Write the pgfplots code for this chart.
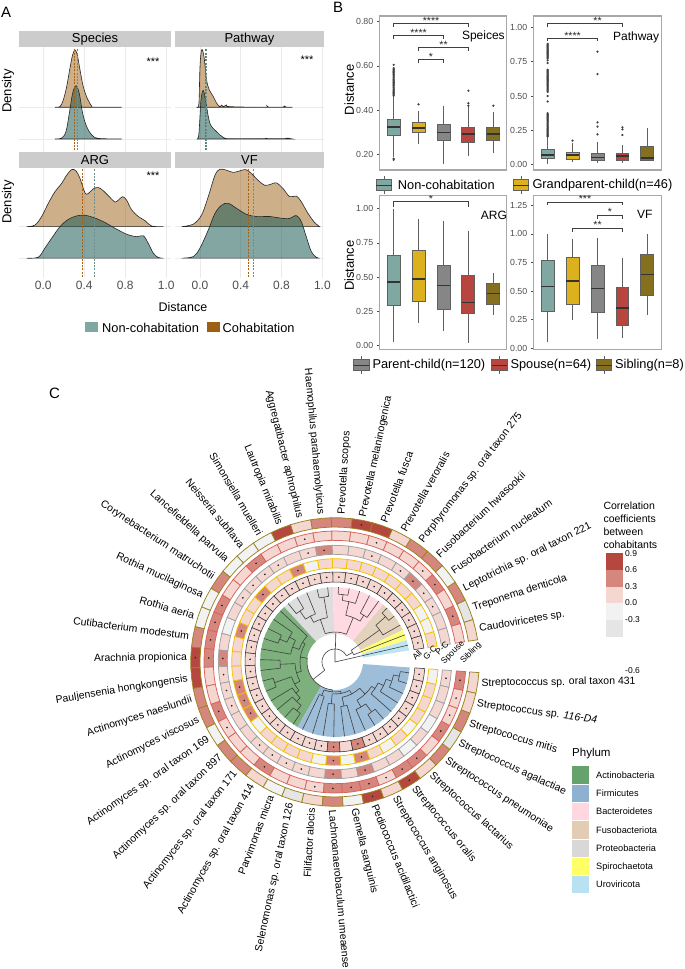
\documentclass[border=0pt]{standalone}
\usepackage{fontspec}
\setmainfont{Liberation Sans}
\usepackage{pgfplots}
\usepackage{pgfplotstable}
\pgfplotsset{compat=1.18}
\usepgfplotslibrary{statistics}

\definecolor{coh}{HTML}{9C5F14}
\definecolor{noncoh}{HTML}{1A5A55}
\definecolor{tealkey}{HTML}{7FA8A3}
\definecolor{yel}{HTML}{DDB11D}
\definecolor{gry}{HTML}{868686}
\definecolor{red1}{HTML}{B9453F}
\definecolor{oli}{HTML}{84701E}
\definecolor{strip}{HTML}{CCCCCC}
\definecolor{gridc}{HTML}{EBEBEB}
\definecolor{frame}{HTML}{A8A8A8}
\definecolor{tickc}{HTML}{4D4D4D}
\definecolor{edgec}{HTML}{606060}
\definecolor{cnine}{HTML}{B5473F}
\definecolor{csix}{HTML}{D5877E}
\definecolor{cthree}{HTML}{F5D7D2}
\definecolor{czero}{HTML}{F2F2F2}
\definecolor{cneg}{HTML}{E5E5E5}
\definecolor{rAll}{HTML}{333333}
\definecolor{rGC}{HTML}{F2C200}
\definecolor{rPC}{HTML}{A0A0A0}
\definecolor{rSp}{HTML}{D9625B}
\definecolor{rSi}{HTML}{9A8420}
\definecolor{pAct}{HTML}{7DB07D}
\definecolor{pFir}{HTML}{9DBDD8}
\definecolor{pBac}{HTML}{FFDAE2}
\definecolor{pFus}{HTML}{E3D3BD}
\definecolor{pPro}{HTML}{DDDDDD}
\definecolor{pSpi}{HTML}{FFFF7A}
\definecolor{pUro}{HTML}{BFE5F5}
\definecolor{kAct}{HTML}{66A26B}
\definecolor{kFir}{HTML}{8DB1D0}
\definecolor{kBac}{HTML}{FFD7E1}
\definecolor{kFus}{HTML}{E2CDB4}
\definecolor{kPro}{HTML}{D8D8D8}
\definecolor{kSpi}{HTML}{FFFF66}
\definecolor{kUro}{HTML}{B8E2F2}

\newcommand\fs[1]{\fontsize{#1}{#1}\selectfont}

% ---- panel A densities, h is height above the ridge baseline
\pgfplotstableread[row sep=\\]{x h\\.114 0\\.163 .02\\.195 .23\\.228 .65\\.26 1.23\\.286 1.65\\.309 1.81\\.332 1.65\\.358 1.18\\.39 .65\\.429 .28\\.472 .04\\.504 0\\.764 0\\}\spCo
\pgfplotstableread[row sep=\\]{x h\\.114 0\\.179 .03\\.221 .23\\.254 .81\\.286 1.44\\.319 1.68\\.351 1.44\\.384 .81\\.423 .39\\.472 .13\\.537 .02\\.764 0\\}\spNo
\pgfplotstableread[row sep=\\]{x h\\-.026 0\\-.01 .13\\0 1.28\\.016 1.81\\.039 1.6\\.065 .86\\.091 .55\\.13 .34\\.163 .13\\.195 .02\\.212 .07\\.228 .02\\.26 .07\\.293 .02\\.635 0\\.658 .04\\.677 0\\.808 0\\.827 .04\\.847 0\\.906 0\\}\paCo
\pgfplotstableread[row sep=\\]{x h\\-.026 0\\-.01 .18\\.01 1.23\\.033 1.53\\.059 1.13\\.098 .49\\.163 .23\\.228 .05\\.293 .01\\.619 .01\\.642 .03\\.668 .01\\.831 .01\\.853 .03\\.906 0\\}\paNo
\pgfplotstableread[row sep=\\]{x h\\-.163 0\\-.081 .05\\-.016 .32\\.049 .74\\.114 1.11\\.179 1.37\\.228 1.63\\.276 1.81\\.319 1.77\\.358 1.53\\.407 1.07\\.439 1.05\\.488 1.2\\.537 1.24\\.585 1.14\\.65 .93\\.699 .78\\.732 .84\\.774 .95\\.813 .84\\.862 .53\\.927 .32\\.992 .19\\1.057 .02\\1.171 0\\}\arCo
\pgfplotstableread[row sep=\\]{x h\\-.163 0\\-.049 .03\\.016 .32\\.081 .63\\.163 1\\.244 1.23\\.325 1.34\\.407 1.36\\.488 1.29\\.585 1.16\\.699 .95\\.813 .76\\.911 .68\\.976 .71\\1.024 .47\\1.073 .16\\1.122 .02\\1.171 0\\}\arNo
\pgfplotstableread[row sep=\\]{x h\\-.179 0\\-.065 .08\\.016 .37\\.081 .95\\.147 1.63\\.195 1.82\\.26 1.79\\.326 1.72\\.391 1.77\\.45 1.81\\.505 1.68\\.57 1.47\\.635 1.31\\.7 1.35\\.749 1.39\\.814 1.21\\.879 .95\\.945 .97\\.993 .79\\1.059 .42\\1.124 .13\\1.173 0\\}\vfCo
\pgfplotstableread[row sep=\\]{x h\\-.179 0\\-.065 .05\\0 .32\\.081 .89\\.147 1.42\\.212 1.68\\.277 1.74\\.358 1.58\\.456 1.39\\.554 1.32\\.684 1.32\\.814 1.26\\.879 1.26\\.945 1.35\\.993 1.16\\1.042 .68\\1.091 .21\\1.14 .03\\1.173 0\\}\vfNo

% ---- panel C correlations by ring (all, g-c, p-c, spouse, sibling) and significance dots
\pgfplotstableread{
k  all gc pc sp si da dg dp ds db
1  .15 .15 .15 .15 .15 1 0 0 0 0
2  .15 -.15 .15 .45 -.45 1 0 0 1 0
3  .15 -.15 .15 .15 .45 1 0 1 0 0
4  .15 .15 .15 .45 -.15 1 0 1 1 0
5  .15 .15 .45 .15 .45 1 0 1 1 0
6  .15 .15 .15 .15 .45 1 0 1 0 0
7  .15 .15 .15 .15 .15 1 0 0 0 0
8  .15 .15 .15 .15 .75 1 0 1 1 0
9  .15 .15 .15 .15 .75 1 0 0 0 1
10 .15 .15 .15 .15 .45 1 0 0 0 0
11 .15 .15 .45 .15 .45 1 0 1 0 0
12 .15 -.15 .15 .15 .15 1 0 1 1 0
13 .15 .45 .15 .15 .75 1 1 0 0 0
14 .15 .15 .15 .15 -.15 1 0 1 0 0
15 .15 .15 .15 .45 -.15 1 0 1 1 0
16 .15 .45 .15 .15 -.15 1 1 1 0 0
17 .15 .15 .15 .15 .45 1 0 1 0 0
18 .15 .15 .15 .45 -.15 1 0 0 1 0
19 .15 .45 -.15 .45 -.15 1 1 0 1 0
20 .15 .15 .15 .45 .45 1 0 0 1 0
21 .15 .15 .45 .45 .75 1 0 1 1 1
22 .15 .15 .15 .15 .75 1 0 1 0 0
23 .15 .45 .15 .15 .45 1 1 1 0 0
24 .15 .45 .15 .45 .45 1 1 1 1 0
25 .15 .45 .15 .15 -.15 1 1 0 1 0
26 .15 -.15 .15 .15 .45 1 0 0 0 0
27 .15 .15 .15 .15 .45 1 0 1 0 0
28 .15 .15 .15 .45 .15 1 0 1 1 0
29 .15 .15 .15 .15 -.15 1 0 1 0 0
30 .15 .15 .15 .15 -.45 1 0 1 0 0
31 .15 -.15 .15 .15 .15 1 0 0 1 0
32 .45 .45 .45 .45 .45 1 1 1 1 0
33 .15 -.15 .15 .45 -.15 0 0 0 1 0
34 .45 .45 .45 .45 .75 1 1 1 1 1
35 .15 .15 .15 .15 .15 1 0 0 1 0
36 .15 -.15 .15 .45 .75 1 0 0 1 1
37 .15 .15 -.15 .45 .15 1 0 0 1 0
38 .15 -.15 .15 .15 .45 1 0 0 0 0
39 .15 .15 -.15 .45 -.45 1 0 0 1 0
40 .15 .15 .15 .15 .45 1 0 0 1 0
41 .15 .15 .15 .15 .15 1 0 0 1 0
42 .15 -.15 .15 .45 .15 1 0 1 1 0
}\corr

% tree: children span k1..k2 at radius r, stem down to radius rp
\pgfplotstableread{
k1 k2 r rp
1 1 75 0
2 2 75 20
3 3 75 55
4 4 75 68
5 5 75 68
6 6 75 55
7 7 75 55
8 8 75 62
9 9 75 68
10 10 75 68
11 11 75 66
12 12 75 66
13 13 75 52
14 14 75 62
15 15 75 62
16 16 75 38
17 17 75 52
18 18 75 60
19 19 75 60
20 20 75 45
21 21 75 55
22 22 75 55
23 23 75 64
24 24 75 64
25 25 75 50
26 26 75 55
27 27 75 62
28 28 75 62
29 29 75 36
30 30 75 36
31 31 75 42
32 32 75 42
33 33 75 45
34 34 75 45
35 35 75 52
36 36 75 62
37 37 75 62
38 38 75 48
39 39 75 54
40 40 75 60
41 41 75 66
42 42 75 66
41 42 66 60
40 41.5 60 54
39 40.75 54 48
38 39.875 48 44
36 37 62 52
35 36.5 52 44
35.75 38.94 44 36
33 34 45 36
33.5 37.345 36 32
31 32 42 32
31.5 35.42 32 30
29 30 36 30
29.5 33.46 30 28
27 28 62 55
26 27.5 55 50
25 26.75 50 46
23 24 64 46
23.5 25.875 46 40
21 22 55 40
21.5 24.69 40 35
18 19 60 52
17 18.5 52 45
17.75 20 45 38
16 18.875 38 35
17.44 23.09 35 28
20.27 31.48 28 13
11 12 66 45
14 15 62 52
13 14.5 52 45
11.5 13.75 45 30
9 10 68 62
8 9.5 62 48
6 7 55 48
6.5 8.75 48 30
7.625 12.625 30 13
4 5 68 55
3 4.5 55 20
2 3.75 20 13
2.875 25.875 13 13
10.3 10.3 13 0
}\treedata

\pgfplotsset{
  ridge/.style={scale only axis,anchor=north west,axis line style={draw=none},tick style={draw=none},
    xmajorgrids,ymajorgrids,grid style={gridc,line width=.7pt},ytick={0,1},yticklabels={},
    xtick={0,.4,.8,1.2},ticklabel style={font=\fs{12},text=tickc},
    ylabel style={font=\fs{13},anchor=center}},
  upper/.style={smooth,tension=.55,draw=black!85,line width=.6pt,fill=coh,fill opacity=.5},
  lower/.style={smooth,tension=.55,draw=black!85,line width=.6pt,fill=noncoh,fill opacity=.54},
  dashCo/.style={draw=coh!90!orange,dash pattern=on 2pt off 1.3pt,line width=.8pt},
  dashNo/.style={draw=tealkey!85!black,dash pattern=on 2pt off 1.3pt,line width=.8pt},
  boxpanel/.style={scale only axis,anchor=north west,width=127.5pt,height=154pt,
    axis line style={frame,line width=1.1pt},xtick=\empty,ytick pos=left,tick align=outside,
    major tick length=2.5pt,tick style={tickc,line width=.6pt},
    yticklabel style={font=\fs{8.8},text=tickc},
    ylabel style={font=\fs{13},anchor=center}},
  bxs/.style={solid,draw=edgec,line width=.9pt,mark=*,mark size=.6pt,mark options={draw=black!75,fill=black!75},
    boxplot/draw direction=y,boxplot/whisker extend=0,
    boxplot/every median/.style={draw=black!80,line width=1.5pt}},
}

% position lw q1 med q3 uw colour outliers
\newcommand\bx[8]{\addplot[bxs,fill=#7,boxplot prepared={draw position=#1,box extend=.52,lower whisker=#2,lower quartile=#3,median=#4,upper quartile=#5,upper whisker=#6}] coordinates {#8};}
% x1 x2 level tip, stars at xs,ys
\newcommand\brk[7]{\addplot[black!75,line width=.6pt] coordinates {(#1,#4)(#1,#3)(#2,#3)(#2,#4)};
  \node[font=\fs{10.5},inner sep=0pt,text=black!85] at (axis cs:#5,#6) {#7};}
\newcommand\bkey[3]{\draw[edgec,line width=.9pt] (#1pt,-#2pt+9pt) -- (#1pt,-#2pt-9pt);
  \draw[edgec,line width=.9pt,fill=#3] (#1pt-7.7pt,-#2pt+5.2pt) rectangle (#1pt+7.7pt,-#2pt-5.2pt);
  \draw[black!80,line width=1pt] (#1pt-7.7pt,-#2pt) -- (#1pt+7.7pt,-#2pt);}

% panel C helpers
\newcommand\ring[6]{%
  \pgfplotsforeachungrouped \k in {0,...,41}{%
    \pgfplotstablegetelem{\k}{#1}\of\corr \let\cv\pgfplotsretval
    \pgfplotstablegetelem{\k}{#2}\of\corr \let\dv\pgfplotsretval
    \ifdim\cv pt>0.6pt \def\cc{cnine}\else\ifdim\cv pt>0.3pt \def\cc{csix}\else\ifdim\cv pt>0pt \def\cc{cthree}\else
      \ifdim\cv pt>-0.3pt \def\cc{czero}\else \def\cc{cneg}\fi\fi\fi\fi
    \pgfmathsetmacro\aA{13+(\k-.5)*8.26}\pgfmathsetmacro\aM{13+\k*8.26}\pgfmathsetmacro\aB{13+(\k+.5)*8.26}
    \edef\tmp{\noexpand\addplot[fill=\cc,draw=#5,line width=#6] coordinates {(\aA,#3)(\aM,#3)(\aB,#3)(\aB,#4)(\aM,#4)(\aA,#4)} -- cycle;}\tmp
    \ifnum\dv=1 \pgfmathsetmacro\rM{(#3+#4)/2}\xdef\dotlist{\dotlist(\aM,\rM)}\fi
  }}
\newcommand\sector[3]{%
  \gdef\seclist{}%
  \pgfplotsforeachungrouped \j in {#1,...,#2}{%
    \pgfmathsetmacro\aA{13+(\j-1.5)*8.26}\xdef\seclist{\seclist(\aA,75)}}%
  \pgfmathsetmacro\aA{13+(#2-.5)*8.26}\xdef\seclist{\seclist(\aA,75)(\aA,28)}%
  \pgfplotsforeachungrouped \j in {#2,...,#1}{%
    \pgfmathsetmacro\aA{13+(\j-1.5)*8.26}\xdef\seclist{\seclist(\aA,28)}}%
  \edef\tmp{\noexpand\addplot[fill=#3,draw=none] coordinates {\seclist} -- cycle;}\tmp}
\pgfplotstablegetrowsof{\treedata}
\pgfmathtruncatemacro\treelast{\pgfplotsretval-1}

\begin{document}
\begin{tikzpicture}
\path[use as bounding box] (0,0) rectangle (685pt,-969pt);

% ============ A ============
\node[font=\fs{15},anchor=west,inner sep=0pt] at (1pt,-12pt) {A};
\foreach \xa/\xb/\ya/\yb/\t in {19/171/31/47/Species,175/324/31/47/Pathway,19/171/152/168/ARG,175/324/152/168/VF}{
  \fill[strip] (\xa pt,-\ya pt) rectangle (\xb pt,-\yb pt);
  \node[font=\fs{13},inner sep=0pt] at ({(\xa+\xb)/2*1pt},{-(\ya+\yb)/2*1pt}) {\t};}

\begin{axis}[ridge,at={(19pt,-47pt)},width=152pt,height=105pt,xmin=-.237,xmax=1.246,ymin=-.41,ymax=2.9,xticklabels={},
  ylabel={Density},ylabel style={at={(axis description cs:-.072,.58)}}]
\addplot[upper] table[x=x,y expr=\thisrow{h}+1] {\spCo} -- cycle;
\addplot[lower] table[x=x,y=h] {\spNo} -- cycle;
\addplot[dashCo] coordinates {(.302,-.36)(.302,2.85)};
\addplot[dashNo] coordinates {(.332,-.36)(.332,2.85)};
\node[font=\fs{11}] at (axis cs:1.07,2.45) {***};
\end{axis}
\begin{axis}[ridge,at={(175pt,-47pt)},width=149pt,height=105pt,xmin=-.245,xmax=1.216,ymin=-.41,ymax=2.9,xticklabels={}]
\addplot[upper] table[x=x,y expr=\thisrow{h}+1] {\paCo} -- cycle;
\addplot[lower] table[x=x,y=h] {\paNo} -- cycle;
\addplot[dashCo] coordinates {(.049,-.36)(.049,2.85)};
\addplot[dashNo] coordinates {(.062,-.36)(.062,2.85)};
\node[font=\fs{11}] at (axis cs:1.05,2.49) {***};
\end{axis}
\begin{axis}[ridge,at={(19pt,-168pt)},width=152pt,height=110pt,xmin=-.237,xmax=1.246,ymin=-.63,ymax=2.86,xticklabels={0.0,0.4,0.8,1.0},
  ylabel={Density},ylabel style={at={(axis description cs:-.072,.69)}}]
\addplot[upper] table[x=x,y expr=\thisrow{h}+1] {\arCo} -- cycle;
\addplot[lower] table[x=x,y=h] {\arNo} -- cycle;
\addplot[dashCo] coordinates {(.38,-.6)(.38,2.85)};
\addplot[dashNo] coordinates {(.5,-.6)(.5,2.85)};
\node[font=\fs{11}] at (axis cs:1.07,2.62) {***};
\end{axis}
\begin{axis}[ridge,at={(175pt,-168pt)},width=149pt,height=110pt,xmin=-.245,xmax=1.216,ymin=-.63,ymax=2.86,xticklabels={0.0,0.4,0.8,1.0}]
\addplot[upper] table[x=x,y expr=\thisrow{h}+1] {\vfCo} -- cycle;
\addplot[lower] table[x=x,y=h] {\vfNo} -- cycle;
\addplot[dashCo] coordinates {(.472,-.6)(.472,2.85)};
\addplot[dashNo] coordinates {(.528,-.6)(.528,2.85)};
\end{axis}
\node[font=\fs{12.5},inner sep=0pt] at (183pt,-307pt) {Distance};
\fill[tealkey] (85pt,-322pt) rectangle (98pt,-332pt);
\node[font=\fs{12.8},anchor=west,inner sep=0pt] at (102pt,-327.5pt) {Non-cohabitation};
\fill[coh] (207pt,-322pt) rectangle (219.5pt,-332pt);
\node[font=\fs{12.8},anchor=west,inner sep=0pt] at (222.5pt,-327.5pt) {Cohabitation};

% ============ B ============
\node[font=\fs{15},anchor=west,inner sep=0pt] at (333pt,-7pt) {B};
\begin{axis}[boxpanel,at={(379.3pt,-16pt)},xmin=.424,xmax=5.54,ymin=.129,ymax=.826,
  ytick={.2,.4,.6,.8},yticklabels={0.20,0.40,0.60,0.80},
  ylabel={Distance},ylabel style={at={(axis description cs:-.235,.52)}}]
\bx{1}{.19}{.287}{.324}{.36}{.46}{tealkey}{(0,.175)(0,.18)(0,.465)(0,.47)(0,.475)(0,.48)(0,.485)(0,.49)(0,.495)(0,.50)(0,.505)(0,.51)(0,.515)(0,.52)(0,.525)(0,.53)(0,.535)(0,.54)(0,.545)(0,.55)(0,.555)(0,.56)(0,.565)(0,.57)(0,.575)(0,.58)(0,.585)(0,.59)(0,.605)}
\bx{2}{.247}{.30}{.319}{.346}{.398}{yel}{(0,.426)}
\bx{3}{.156}{.263}{.298}{.337}{.419}{gry}{}
\bx{4}{.192}{.254}{.293}{.322}{.413}{red1}{(0,.42)(0,.431)(0,.488)}
\bx{5}{.205}{.263}{.293}{.322}{.39}{oli}{(0,.42)}
\brk{1}{4}{.791}{.777}{2.5}{.805}{****}
\brk{1}{3}{.738}{.723}{2}{.75}{****}
\brk{2}{4}{.684}{.669}{3}{.697}{**}
\brk{2}{3}{.63}{.615}{2.5}{.643}{*}
\node[font=\fs{12},inner sep=0pt] at (axis cs:4.6,.732) {Speices};
\end{axis}
\begin{axis}[boxpanel,at={(533.3pt,-16pt)},width=128.4pt,xmin=.425,xmax=5.575,ymin=-.039,ymax=1.083,
  ytick={0,.25,.5,.75,1},yticklabels={0.00,0.25,0.50,0.75,1.00}]
\bx{1}{.005}{.044}{.07}{.109}{.2}{tealkey}{(0,.205)(0,.212)(0,.219)(0,.226)(0,.233)(0,.24)(0,.247)(0,.254)(0,.261)(0,.268)(0,.275)(0,.282)(0,.289)(0,.296)(0,.303)(0,.31)(0,.317)(0,.324)(0,.331)(0,.338)(0,.345)(0,.352)(0,.359)(0,.366)(0,.375)(0,.46)(0,.5)(0,.53)(0,.537)(0,.544)(0,.551)(0,.558)(0,.565)(0,.572)(0,.579)(0,.586)(0,.593)(0,.6)(0,.607)(0,.614)(0,.621)(0,.628)(0,.635)(0,.642)(0,.649)(0,.656)(0,.663)(0,.67)(0,.677)(0,.684)(0,.691)(0,.74)(0,.76)(0,.775)(0,.782)(0,.789)(0,.796)(0,.803)(0,.81)(0,.817)(0,.824)(0,.831)(0,.838)(0,.845)(0,.852)(0,.859)(0,.866)(0,.873)(0,.88)}
\bx{2}{.017}{.039}{.07}{.09}{.155}{yel}{(0,.175)}
\bx{3}{.012}{.029}{.053}{.085}{.165}{gry}{(0,.22)(0,.277)(0,.308)(0,.66)(0,.823)}
\bx{4}{.015}{.029}{.063}{.08}{.143}{red1}{(0,.216)(0,.257)(0,.272)}
\bx{5}{.032}{.034}{.05}{.133}{.267}{oli}{}
\brk{1}{4}{1.027}{1.0}{3}{1.045}{**}
\brk{1}{3}{.922}{.898}{2}{.94}{****}
\node[font=\fs{12},inner sep=0pt] at (axis cs:4.55,.928) {Pathway};
\end{axis}
\begin{axis}[boxpanel,at={(379.3pt,-195.3pt)},xmin=.424,xmax=5.54,ymin=-.029,ymax=1.098,
  ytick={0,.25,.5,.75,1},yticklabels={0.00,0.25,0.50,0.75,1.00},
  ylabel={Distance},ylabel style={at={(axis description cs:-.235,.543)}}]
\bx{1}{.024}{.295}{.463}{.661}{1}{tealkey}{}
\bx{2}{.166}{.32}{.485}{.693}{.924}{yel}{}
\bx{3}{.105}{.261}{.439}{.583}{.91}{gry}{}
\bx{4}{.02}{.232}{.312}{.51}{.837}{red1}{}
\bx{5}{.222}{.30}{.378}{.454}{.527}{oli}{}
\brk{1}{4}{1.051}{1.015}{2.5}{1.072}{*}
\node[font=\fs{12},inner sep=0pt] at (axis cs:5.02,.95) {ARG};
\end{axis}
\begin{axis}[boxpanel,at={(533.3pt,-195.3pt)},width=128.4pt,xmin=.425,xmax=5.575,ymin=-.009,ymax=1.337,
  ytick={0,.25,.5,.75,1,1.25},yticklabels={0.00,0.25,0.50,0.75,1.00,1.25}]
\bx{1}{.052}{.32}{.539}{.766}{1}{tealkey}{}
\bx{2}{.25}{.385}{.589}{.793}{.959}{yel}{}
\bx{3}{.082}{.315}{.522}{.72}{.964}{gry}{}
\bx{4}{.093}{.20}{.353}{.533}{.79}{red1}{}
\bx{5}{.294}{.466}{.644}{.822}{.997}{oli}{}
\brk{1}{4}{1.279}{1.253}{2.5}{1.305}{***}
\brk{3}{4}{1.163}{1.133}{3.5}{1.19}{*}
\brk{2}{4}{1.046}{1.017}{3}{1.075}{**}
\node[font=\fs{12},inner sep=0pt] at (axis cs:4.9,1.17) {VF};
\end{axis}

\bkey{384}{185}{tealkey}
\node[font=\fs{12.8},anchor=west,inner sep=0pt] at (397.7pt,-185pt) {Non-cohabitation};
\bkey{521}{185}{yel}
\node[font=\fs{12.8},anchor=west,inner sep=0pt] at (532.3pt,-185pt) {Grandparent-child(n=46)};
\bkey{361.3}{365}{gry}
\node[font=\fs{12.8},anchor=west,inner sep=0pt] at (372.3pt,-365pt) {Parent-child(n=120)};
\bkey{499.3}{365}{red1}
\node[font=\fs{12.8},anchor=west,inner sep=0pt] at (510.3pt,-365pt) {Spouse(n=64)};
\bkey{604}{365}{oli}
\node[font=\fs{12.8},anchor=west,inner sep=0pt] at (615pt,-365pt) {Sibling(n=8)};

% ============ C ============
\node[font=\fs{15},anchor=west,inner sep=0pt] at (49pt,-393pt) {C};
\begin{axis}[at={(335pt,-662pt)},anchor=center,scale only axis,width=300pt,height=300pt,
  xmin=-150,xmax=150,ymin=-150,ymax=150,hide axis,data cs=polar]
\sector{1}{1}{pUro}
\sector{2}{2}{pSpi}
\sector{3}{5}{pFus}
\sector{6}{10}{pBac}
\sector{11}{15}{pPro}
\sector{16}{28}{pAct}
\sector{29}{42}{pFir}
% tree
\pgfplotsforeachungrouped \n in {0,...,\treelast}{%
  \pgfplotstablegetelem{\n}{k1}\of\treedata \let\kA\pgfplotsretval
  \pgfplotstablegetelem{\n}{k2}\of\treedata \let\kB\pgfplotsretval
  \pgfplotstablegetelem{\n}{r}\of\treedata \let\rr\pgfplotsretval
  \pgfplotstablegetelem{\n}{rp}\of\treedata \let\rp\pgfplotsretval
  \pgfmathsetmacro\aM{13+((\kA+\kB)/2-1)*8.26}
  \edef\tmp{\noexpand\addplot[black!75,line width=.6pt] coordinates {(\aM,\rr)(\aM,\rp)};}\tmp
  \pgfmathtruncatemacro\steps{max(0,ceil(\kB-\kA))}
  \ifnum\steps>0
    \gdef\arclist{}%
    \pgfplotsforeachungrouped \s in {0,...,\steps}{%
      \pgfmathsetmacro\aA{13+(\kA+(\kB-\kA)*\s/\steps-1)*8.26}\xdef\arclist{\arclist(\aA,\rr)}}%
    \edef\tmp{\noexpand\addplot[black!75,line width=.6pt] coordinates {\arclist};}\tmp
  \fi
}
% rings
\gdef\dotlist{}
\ring{all}{da}{80}{90}{rAll}{.55pt}
\ring{gc}{dg}{94}{103.3}{rGC}{.75pt}
\ring{pc}{dp}{107.7}{116.7}{rPC}{.75pt}
\ring{sp}{ds}{121.7}{131}{rSp}{.75pt}
\ring{si}{db}{135}{144.3}{rSi}{.75pt}
\edef\tmp{\noexpand\addplot[only marks,mark=*,mark size=.6pt,mark options={draw=black!85,fill=black!85}] coordinates {\dotlist};}\tmp
\end{axis}

\foreach \nm [count=\k from 0] in {Caudoviricetes sp.,Treponema denticola,Leptotrichia sp. oral taxon 221,Fusobacterium nucleatum,Fusobacterium hwasookii,Porphyromonas sp. oral taxon 275,Prevotella veroralis,Prevotella fusca,Prevotella melaninogenica,Prevotella scopos,Haemophilus parahaemolyticus,Aggregatibacter aphrophilus,Lautropia mirabilis,Simonsiella muelleri,Neisseria subflava,Lancefieldella parvula,Corynebacterium matruchotii,Rothia mucilaginosa,Rothia aeria,Cutibacterium modestum,Arachnia propionica,Pauljensenia hongkongensis,Actinomyces naeslundii,Actinomyces viscosus,Actinomyces sp. oral taxon 169,Actinomyces sp. oral taxon 897,Actinomyces sp. oral taxon 171,Actinomyces sp. oral taxon 414,Parvimonas micra,Selenomonas sp. oral taxon 126,Filifactor alocis,Lachnoanaerobaculum umeaense,Gemella sanguinis,Pediococcus acidilactici,Streptococcus anginosus,Streptococcus oralis,Streptococcus lactarius,Streptococcus pneumoniae,Streptococcus agalactiae,Streptococcus mitis,Streptococcus sp. \textit{116-D4},Streptococcus sp. oral taxon 431}{
  \pgfmathsetmacro\pos{13+\k*8.26}
  \pgfmathsetmacro\rot{9.4+\k*8.571}
  \pgfmathparse{(\rot>90 && \rot<270) ? 1 : 0}
  \ifnum\pgfmathresult=1
    \pgfmathsetmacro\rot{\rot-180}
    \node[font=\fs{10.5},rotate=\rot,anchor=east,inner sep=0pt] at ([shift={(\pos:148pt)}]335pt,-662pt) {\nm};
  \else
    \node[font=\fs{10.5},rotate=\rot,anchor=west,inner sep=0pt] at ([shift={(\pos:148pt)}]335pt,-662pt) {\nm};
  \fi
}
\foreach \x/\y/\t in {417/655/All,430/653/G-C,442/648/P-C,453/653/Spouse,471/653/Sibling}
  \node[font=\fs{8.5},rotate=45,inner sep=0pt] at (\x pt,-\y pt) {\t};

% correlation key
\foreach \y/\t in {506/Correlation,519/coefficients,532/between,545/cohabitants}
  \node[font=\fs{10.5},anchor=west,inner sep=0pt] at (603.3pt,-\y pt) {\t};
\foreach \y/\c in {553.3/cnine,570/csix,586.7/cthree,603.4/czero,620/cneg}
  \fill[\c] (606pt,-\y pt) rectangle (622.7pt,{-\y*1pt-16.7pt});
\foreach \y/\t in {553.7/0.9,570/0.6,586.7/0.3,603/0.0,620/-0.3,670.7/-0.6}
  \node[font=\fs{8.5},anchor=west,inner sep=0pt] at (625pt,-\y pt) {\t};

% phylum key
\node[font=\fs{11.5},anchor=west,inner sep=0pt] at (572pt,-754pt) {Phylum};
\foreach \y/\c/\t in {775/kAct/Actinobacteria,793.3/kFir/Firmicutes,811.7/kBac/Bacteroidetes,830/kFus/Fusobacteriota,848.3/kPro/Proteobacteria,866.7/kSpi/Spirochaetota,884.3/kUro/Uroviricota}{
  \fill[\c] (572.3pt,{-\y*1pt+8.6pt}) rectangle (589.3pt,{-\y*1pt-8.6pt});
  \node[font=\fs{9.2},anchor=west,inner sep=0pt] at (596pt,-\y pt) {\t};}
\end{tikzpicture}
\end{document}
